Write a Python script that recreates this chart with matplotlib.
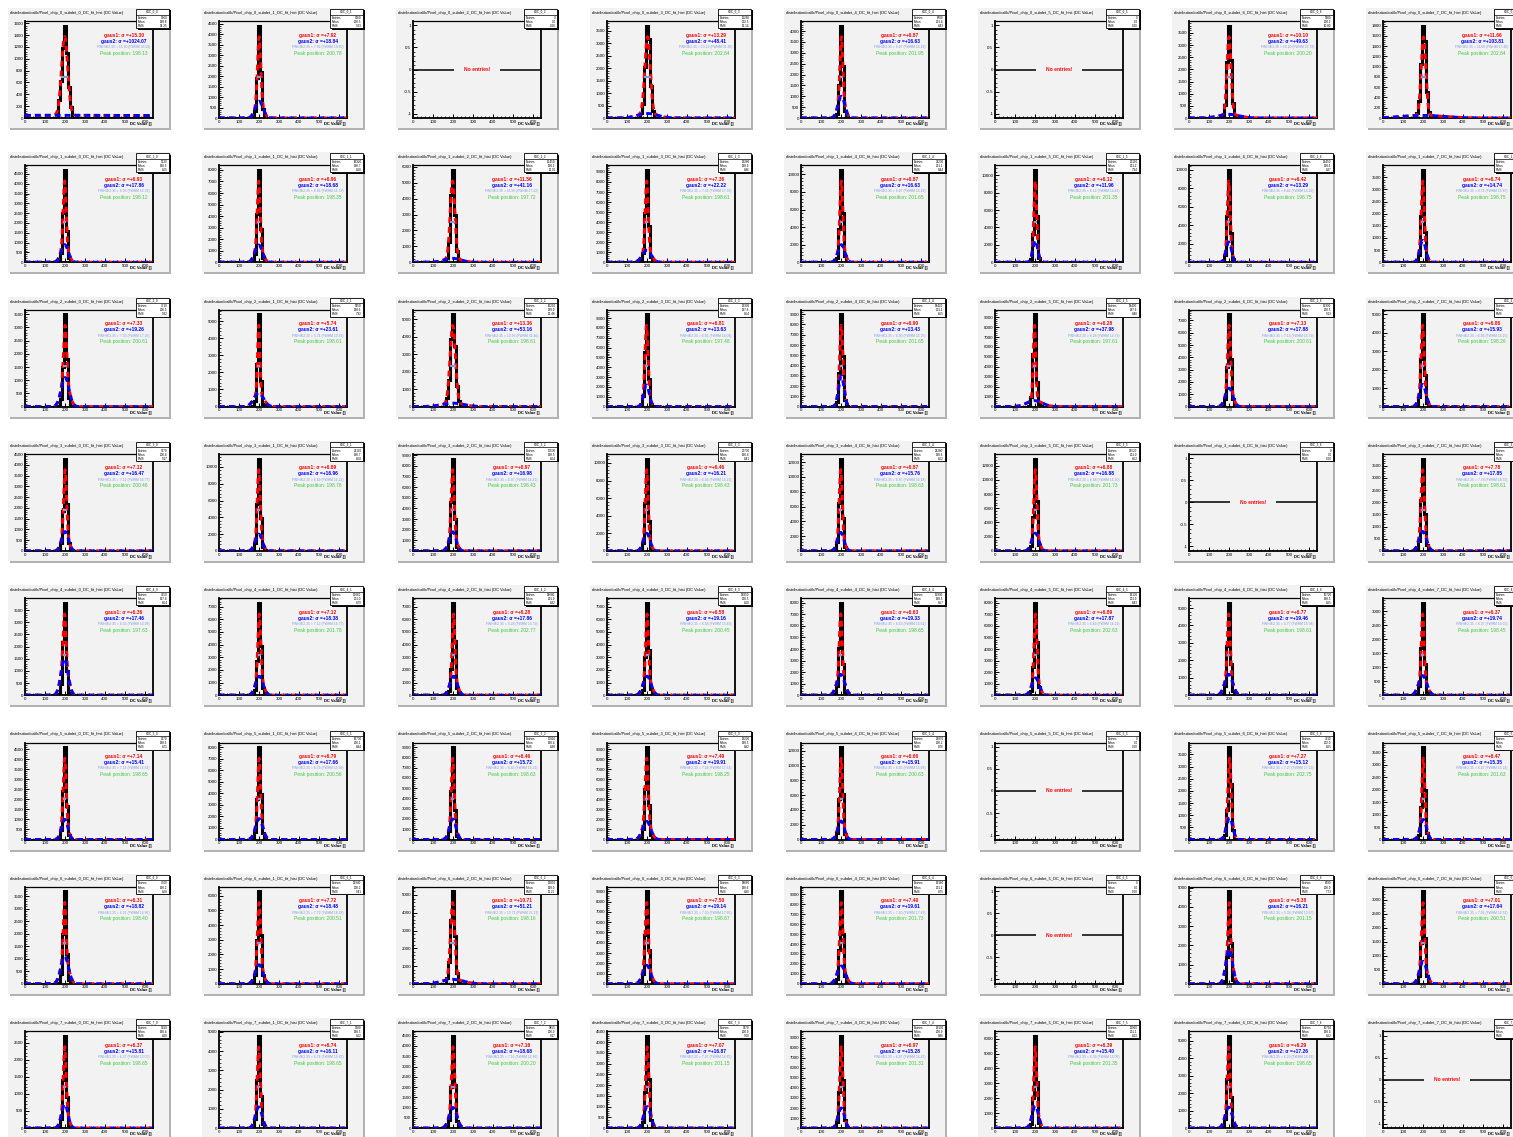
import numpy as np
import matplotlib
matplotlib.use("Agg")
import matplotlib.pyplot as plt
from matplotlib.patches import Rectangle
from matplotlib.ticker import MaxNLocator, AutoMinorLocator, FixedLocator

plt.rcParams['font.family'] = ['Liberation Sans', 'DejaVu Sans']

# ---------------------------------------------------------------------------
# Histogram content: DC value bins (width 10) around the pedestal peak.
# Rows are chips, columns are sub-detectors; None marks an empty histogram.
# ---------------------------------------------------------------------------
bin_centers = [170, 180, 190, 200, 210, 220, 230]
x_ticks = [0, 100, 200, 300, 400, 500, 600]
x_range = (0, 640)

hist_counts = [
    [[300, 620, 1180, 1560, 1100, 520, 180], [40, 350, 1900, 4400, 2200, 420, 50], None,
     [220, 560, 2050, 3700, 3150, 1300, 300], [20, 180, 1500, 4250, 2400, 320, 30], None,
     [120, 550, 2300, 3800, 2400, 600, 130], [90, 330, 1050, 1800, 1500, 500, 110]],
    [[40, 450, 2500, 4700, 1600, 200, 30], [70, 750, 4200, 8000, 2900, 350, 50],
     [300, 1300, 4200, 5800, 3000, 700, 150], [100, 900, 4900, 9200, 3600, 500, 80],
     [60, 500, 3800, 10500, 5600, 700, 70], [40, 350, 3300, 10600, 5300, 550, 50],
     [60, 800, 5000, 10000, 3200, 350, 40], [30, 320, 1900, 3800, 1250, 140, 20]],
    [[40, 300, 1500, 3500, 1800, 330, 40], [30, 350, 2500, 5400, 1500, 150, 20],
     [500, 1500, 3900, 5300, 3500, 1200, 300], [90, 1100, 5600, 9400, 2800, 300, 40],
     [60, 450, 3300, 9000, 4900, 650, 60], [80, 1000, 5300, 9300, 2500, 250, 60],
     [70, 600, 3200, 7500, 3900, 650, 70], [50, 500, 2600, 5000, 1700, 200, 30]],
    [[40, 360, 1850, 4300, 2200, 380, 40], [90, 1000, 5600, 11000, 3900, 450, 60],
     [80, 850, 4600, 8700, 3000, 350, 50], [80, 950, 5400, 10500, 3400, 350, 50],
     [110, 1200, 6500, 12500, 4400, 500, 70], [80, 650, 4800, 13000, 7000, 900, 90],
     None, [50, 420, 2100, 3800, 1500, 230, 30]],
    [[40, 480, 2200, 3800, 1000, 110, 20], [50, 450, 2700, 7300, 3900, 600, 60],
     [30, 300, 2100, 7300, 4300, 600, 50], [50, 450, 3000, 7300, 3600, 500, 50],
     [70, 780, 4100, 8000, 2700, 300, 40], [40, 330, 2400, 8000, 4600, 700, 60],
     [50, 520, 2800, 5300, 1800, 220, 30], [30, 320, 1700, 3300, 1100, 120, 20]],
    [[40, 450, 2400, 4600, 1650, 200, 30], [70, 650, 3500, 8000, 3900, 550, 60],
     [70, 800, 4700, 9000, 2900, 300, 40], [110, 1000, 5000, 9200, 3400, 450, 60],
     [90, 900, 5500, 12500, 6200, 800, 80], None,
     [20, 170, 1200, 3800, 2300, 380, 40], [20, 180, 1300, 3700, 2000, 260, 30]],
    [[40, 400, 2000, 3700, 1200, 140, 20], [70, 600, 3000, 6300, 3300, 600, 70],
     [350, 1200, 3600, 5200, 2700, 600, 150], [100, 950, 4800, 9000, 3300, 450, 60],
     [60, 520, 3400, 9300, 5000, 800, 80], None,
     [20, 150, 1400, 4800, 2100, 200, 20], [30, 280, 1450, 3300, 1650, 280, 30]],
    [[25, 270, 1400, 2700, 900, 100, 15], [45, 470, 2500, 4800, 1650, 190, 25],
     [45, 400, 2000, 4500, 2100, 370, 40], [30, 300, 1700, 4300, 2300, 400, 40],
     [60, 600, 3600, 9200, 4800, 800, 70], [30, 250, 2000, 6200, 3100, 350, 30],
     [50, 530, 2800, 5300, 1800, 200, 30], None],
]

# Double-gaussian fit results: narrow core (gaus1) and wide component (gaus2)
sigma1 = [
    [15.30, 7.92, None, 13.29, 6.87, None, 10.10, 11.66],
    [6.93, 6.96, 11.56, 7.36, 6.87, 6.12, 6.42, 6.74],
    [7.33, 5.74, 13.36, 6.81, 6.90, 6.28, 7.13, 6.86],
    [7.12, 6.89, 6.97, 6.46, 6.87, 6.88, None, 7.78],
    [6.36, 7.12, 6.28, 6.58, 6.63, 6.89, 6.77, 6.37],
    [7.14, 6.79, 6.46, 7.49, 6.66, None, 7.27, 6.47],
    [6.31, 7.72, 10.71, 7.50, 7.40, None, 5.38, 7.01],
    [6.37, 6.74, 7.16, 7.07, 6.97, 6.39, 6.29, None],
]
sigma2 = [
    [1024.07, 18.84, None, 48.41, 16.63, None, 49.63, 103.81],
    [17.86, 18.68, 41.16, 22.22, 16.63, 11.96, 13.29, 14.74],
    [19.26, 23.61, 53.16, 13.63, 13.43, 37.98, 17.88, 15.93],
    [16.47, 16.96, 16.98, 16.21, 15.76, 16.88, None, 17.85],
    [17.46, 18.38, 17.86, 19.16, 19.33, 17.87, 19.46, 19.74],
    [15.41, 17.66, 15.72, 19.91, 15.91, None, 15.12, 15.35],
    [18.82, 18.48, 51.21, 19.14, 19.61, None, 16.21, 17.64],
    [15.81, 16.11, 18.68, 16.87, 15.28, 15.40, 17.26, None],
]
peak_pos = [
    [198.13, 200.78, None, 202.64, 201.95, None, 200.20, 202.64],
    [198.12, 198.35, 197.72, 198.61, 201.65, 201.35, 198.75, 198.75],
    [200.61, 198.61, 198.61, 197.48, 201.65, 197.61, 200.61, 198.26],
    [200.46, 198.76, 198.43, 198.43, 198.63, 201.73, None, 198.61],
    [197.63, 201.78, 202.77, 200.45, 198.65, 202.63, 198.61, 198.45],
    [198.65, 200.56, 198.63, 198.25, 200.63, None, 202.75, 201.63],
    [198.40, 200.51, 198.16, 198.67, 201.73, None, 201.15, 200.51],
    [198.65, 198.65, 200.20, 201.15, 201.31, 201.35, 198.65, None],
]
amp_g1 = [
    [1330, 3070, None, 3080, 2740, None, 3190, 1530],
    [3240, 5540, 4850, 6900, 7240, 6830, 6600, 2440],
    [1980, 3950, 4460, 6070, 4920, 7580, 5100, 3200],
    [2880, 7680, 5860, 7240, 8500, 8940, None, 2540],
    [1840, 4920, 4920, 4920, 5240, 5540, 3460, 2200],
    [3050, 5240, 5920, 6300, 8500, None, 2440, 2460],
    [2160, 4240, 4330, 6120, 6380, None, 2420, 2100],
    [1680, 3120, 2960, 2780, 6100, 3960, 3460, None],
]
amp_g2 = [
    [45, 800, None, 180, 1000, None, 150, 50],
    [900, 1500, 250, 1200, 2000, 2500, 2200, 900],
    [1100, 800, 200, 2200, 3000, 600, 1500, 1200],
    [900, 2000, 1800, 2000, 2500, 2500, None, 800],
    [1500, 1500, 1500, 1500, 1800, 1500, 1200, 700],
    [1000, 1800, 2000, 1800, 2500, None, 900, 800],
    [1100, 1300, 250, 1800, 1800, None, 1800, 800],
    [700, 1100, 1000, 1000, 2000, 1500, 1200, None],
]

# ---------------------------------------------------------------------------
W, H = 1513, 1137
CELL_W, CELL_H = 194.0, 144.3
PAD_COLOR = "#f2f2f2"
SHADOW = "#b2b2b2"
FWHM_COLOR = "#7f9be0"

fig = plt.figure(figsize=(W / 100, H / 100), dpi=100)
fig.patch.set_facecolor("white")


def fx(x):
    return x / W


def fy(y):
    return 1 - y / H


def rect(x0, y0, x1, y1, color, z=0, ec="none", lw=0.0):
    fig.patches.append(Rectangle((fx(x0), fy(y1)), fx(x1) - fx(x0), fy(y0) - fy(y1),
                                 transform=fig.transFigure, facecolor=color,
                                 edgecolor=ec, linewidth=lw, zorder=z))


def gauss(x, a, mu, s):
    return a * np.exp(-0.5 * ((x - mu) / s) ** 2)


edges = [x_range[0]] + [c - 5 for c in bin_centers] + [bin_centers[-1] + 5, x_range[1]]
xf = np.linspace(x_range[0], x_range[1], 1500)

for r in range(8):
    for c in range(8):
        X0, Y0 = c * CELL_W, r * CELL_H
        # pad with bottom/right shadow
        rect(X0 + 10, Y0 + 10, X0 + 171, Y0 + 130, SHADOW, z=0)
        rect(X0 + 8, Y0 + 8, X0 + 169, Y0 + 128, PAD_COLOR, z=0.1)

        fig.text(fx(X0 + 10), fy(Y0 + 13),
                 f"distribution/calib/Pixel_chip_{r}_subdet_{c}_DC_fit_hist (DC Value)",
                 fontsize=2.9, va="center", ha="left", color="black")

        ax = fig.add_axes([fx(X0 + 25), fy(Y0 + 118), 128 / W, 97 / H])
        ax.set_zorder(2)
        ax.set_facecolor(PAD_COLOR)
        for sp in ax.spines.values():
            sp.set_linewidth(1.3)
        ax.spines["top"].set_linewidth(0.9)
        ax.set_xlim(*x_range)
        ax.xaxis.set_major_locator(FixedLocator(x_ticks))
        ax.xaxis.set_minor_locator(AutoMinorLocator(5))
        ax.yaxis.set_minor_locator(AutoMinorLocator(5))
        ax.tick_params(which="major", direction="in", length=2.6, width=0.7,
                       labelsize=3.2, pad=1.2, top=False, right=False)
        ax.tick_params(which="minor", direction="in", length=1.3, width=0.5,
                       top=False, right=False)

        counts = hist_counts[r][c]
        if counts is None:
            entries, mean, rms = 0, 0.0, 0.0
            ax.set_ylim(-1.1, 1.1)
            ax.yaxis.set_major_locator(FixedLocator([-1, -0.5, 0, 0.5, 1]))
            ax.set_yticklabels(["-1", "-0.5", "0", "0.5", "1"])
            ax.axhline(0, color="black", lw=1.1)
            ax.text(sum(x_range) / 2, 0, "No entries!", color="red", fontsize=3.6,
                    fontweight="bold", ha="center", va="center",
                    bbox=dict(boxstyle="square,pad=2.0", fc=PAD_COLOR, ec="none"))
        else:
            vals = [0] + list(counts) + [0]
            ax.stairs(vals, edges, color="black", lw=2.2, zorder=2)
            s1, s2 = sigma1[r][c], sigma2[r][c]
            mu = peak_pos[r][c]
            a1, a2 = amp_g1[r][c], amp_g2[r][c]
            total = gauss(xf, a1, mu, s1) + gauss(xf, a2, mu, s2)
            wide = gauss(xf, a2, mu, s2)
            ax.plot(xf, total, color="red", lw=2.1, dashes=(2.0, 1.4), zorder=3)
            ax.plot(xf, wide, color="blue", lw=2.1, dashes=(2.0, 1.4), zorder=4)
            half = (a1 + a2) / 2
            fwhm = 2.3548 * s1
            ax.plot([mu - fwhm / 2, mu + fwhm / 2], [half, half], color=FWHM_COLOR,
                    lw=1.6, zorder=5, solid_capstyle="butt")
            ax.set_ylim(0, 1.05 * max(counts))
            ax.yaxis.set_major_locator(MaxNLocator(nbins=10, steps=[1, 2, 5, 10]))
            ax.ticklabel_format(axis="y", style="plain", useOffset=False)

            cw = np.array(counts, float)
            bc = np.array(bin_centers, float)
            entries = int(cw.sum())
            mean = float((cw * bc).sum() / cw.sum())
            rms = float(np.sqrt((cw * (bc - mean) ** 2).sum() / cw.sum()))

            cx = X0 + 124
            fig.text(fx(cx), fy(Y0 + 35), f"gaus1: σ =+{s1:.2f}", color="red",
                     fontsize=3.5, fontweight="bold", ha="center", va="center", zorder=4)
            fig.text(fx(cx), fy(Y0 + 41), f"gaus2: σ =+{s2:.2f}", color="blue",
                     fontsize=3.5, fontweight="bold", ha="center", va="center", zorder=4)
            fig.text(fx(cx), fy(Y0 + 47), f"FWHM/2.35 = {fwhm / 2.3548:.2f} (FWHM {fwhm:.2f})",
                     color=FWHM_COLOR, fontsize=2.4, ha="center", va="center", zorder=4)
            fig.text(fx(cx), fy(Y0 + 53), f"Peak position: {mu:.2f}", color="#3ccc3c",
                     fontsize=3.5, ha="center", va="center", zorder=4)

        ax.set_xticklabels([str(t) for t in x_ticks])
        fig.text(fx(X0 + 152), fy(Y0 + 124), "DC Value []", fontsize=3.0,
                 ha="right", va="center", fontweight="bold", zorder=4)

        # statistics box
        rect(X0 + 137.5, Y0 + 10.5, X0 + 170.5, Y0 + 29.5, "black", z=5)
        rect(X0 + 136, Y0 + 9, X0 + 169, Y0 + 28, "white", z=5.1, ec="black", lw=0.6)
        fig.lines.append(plt.Line2D([fx(X0 + 136), fx(X0 + 169)], [fy(Y0 + 14.5)] * 2,
                                    transform=fig.transFigure, color="black", lw=0.5,
                                    zorder=6))
        fig.text(fx(X0 + 152.5), fy(Y0 + 11.8), f"hDC_{r}_{c}", fontsize=2.2,
                 ha="center", va="center", zorder=7)
        rows_txt = [("Entries", f"{entries}"), ("Mean", f"{mean:.1f}"),
                    ("RMS", f"{rms:.2f}")]
        for i, (lab, val) in enumerate(rows_txt):
            yy = fy(Y0 + 17.6 + i * 4.1)
            fig.text(fx(X0 + 137.5), yy, lab, fontsize=2.2, ha="left", va="center", zorder=7)
            fig.text(fx(X0 + 167.5), yy, val, fontsize=2.2, ha="right", va="center", zorder=7)

fig.savefig("out.png", dpi=100)
